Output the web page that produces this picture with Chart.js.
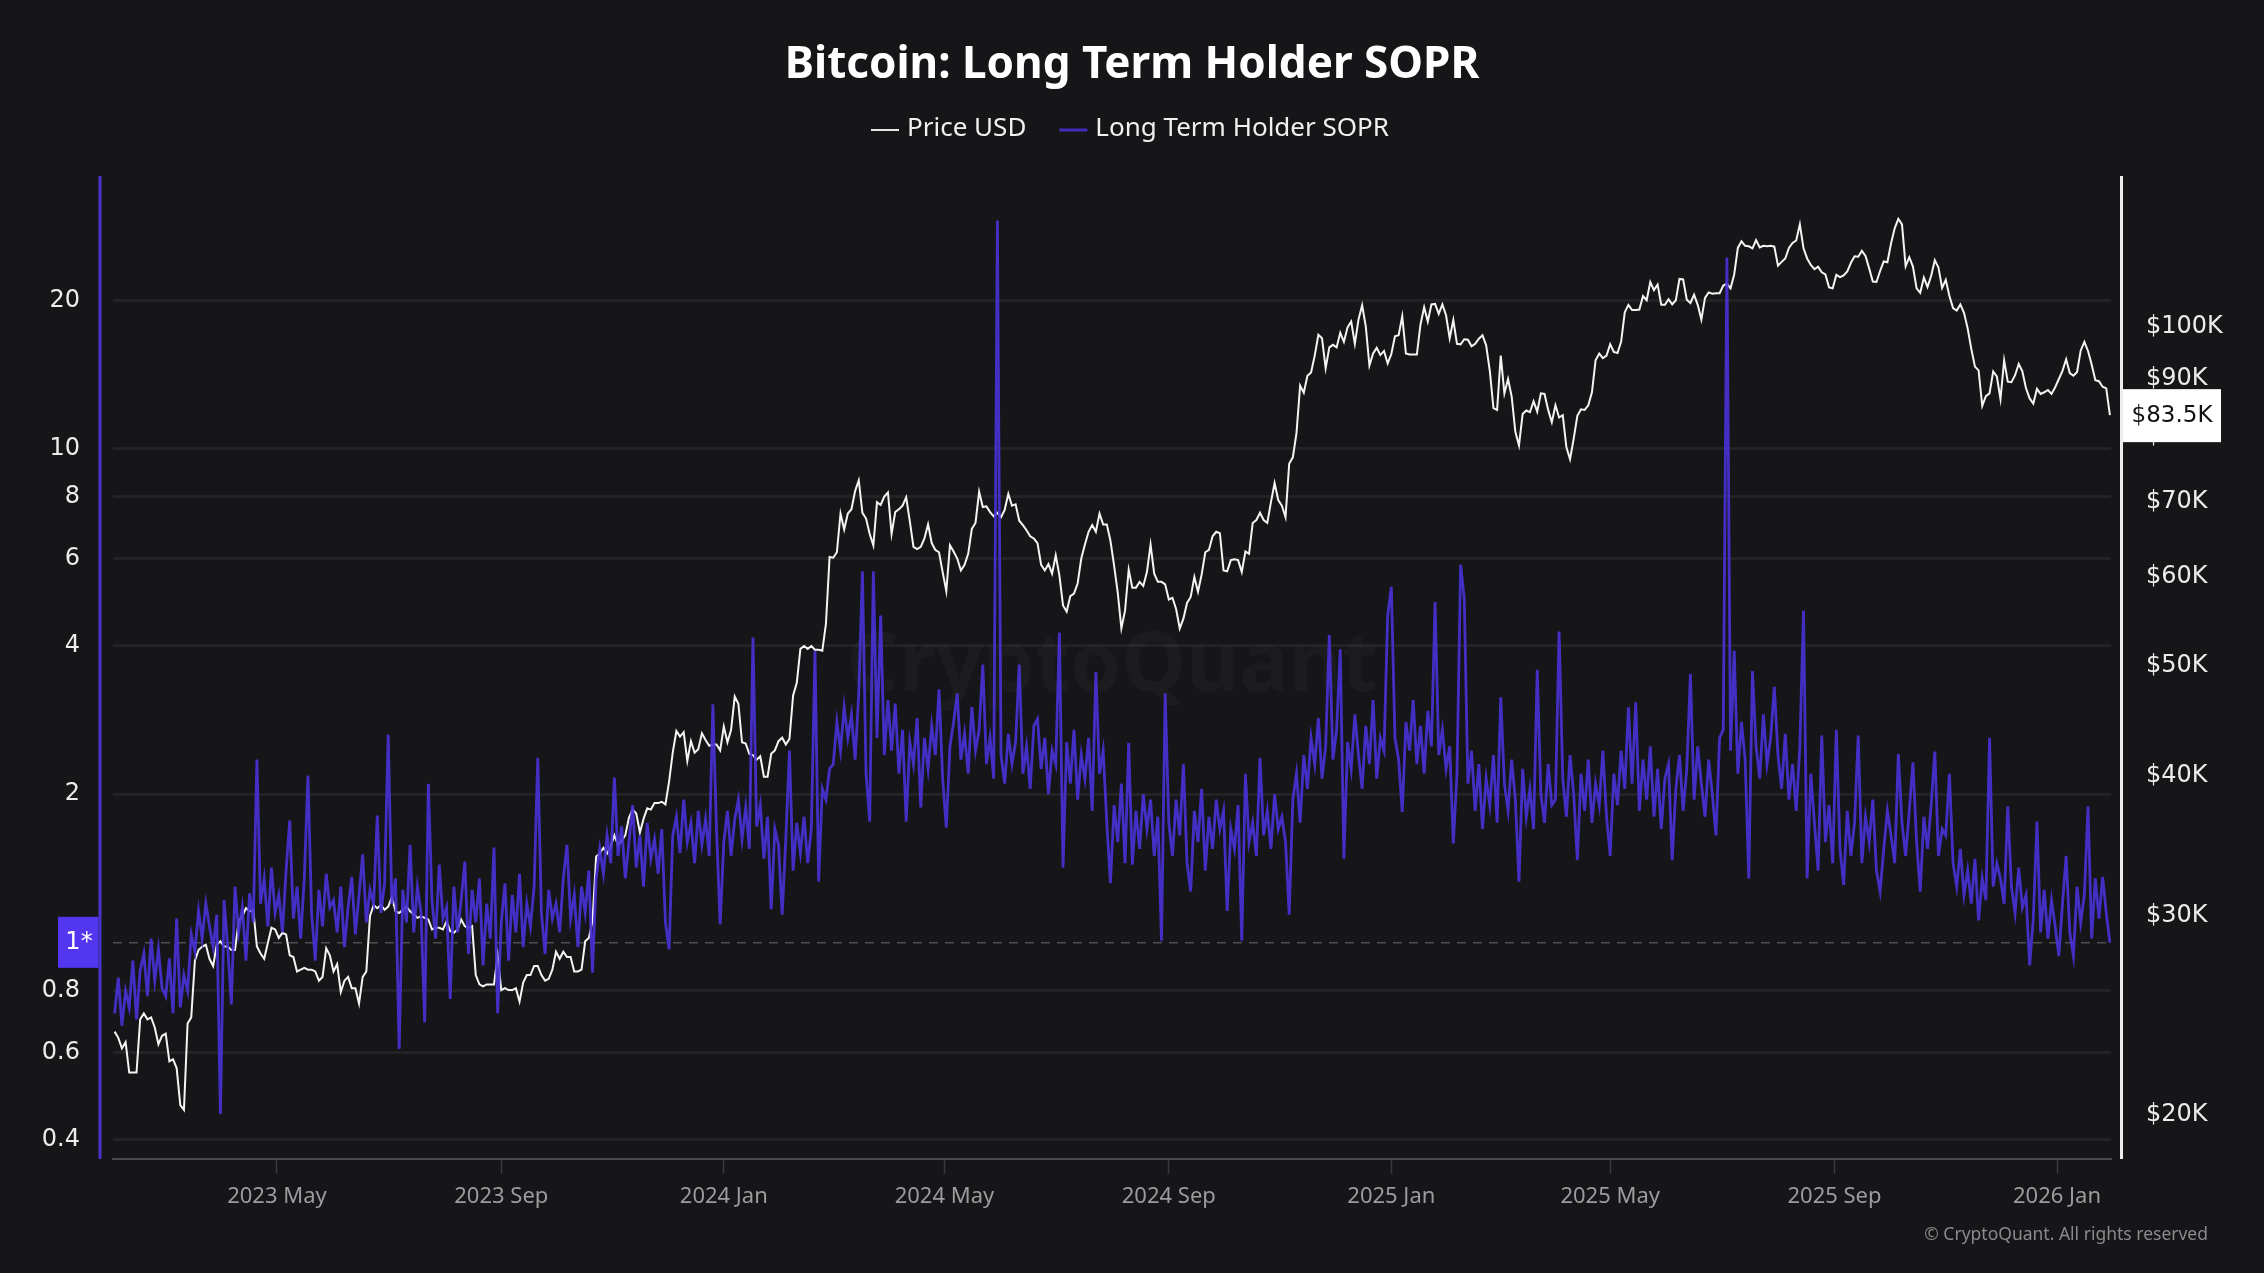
<!DOCTYPE html>
<html><head><meta charset="utf-8">
<script src="https://cdn.jsdelivr.net/npm/chart.js@4.4.1/dist/chart.umd.min.js"></script>
<style>html,body{margin:0;padding:0;background:#161618;overflow:hidden}</style>
</head><body>
<canvas id="c" width="2264" height="1273" style="width:2264px;height:1273px;display:block"></canvas>
<script>
// ---- data (one value every 2 days, starting 2023-02-01) ----
const startDate = '2023-02-01';
const stepDays = 2;

// BTC price, thousands of USD
const priceK = [
 23.7,23.4,22.9,23.2,21.8,21.8,21.8,24.3,24.6,24.3,24.4,23.9,23.1,23.5,
 23.6,22.3,22.4,22.0,20.4,20.2,24.1,24.4,27.4,28.0,28.2,28.3,27.5,27.1,28.3,28.5,
 28.2,28.2,28.0,28.0,29.7,30.0,30.5,30.3,30.4,28.2,27.8,27.5,28.4,29.3,29.2,
 28.7,29.0,28.9,27.7,27.6,26.8,26.9,27.0,26.9,26.9,26.8,26.3,26.5,28.1,27.7,
 26.8,27.2,25.7,26.3,26.5,25.9,25.9,25.1,26.5,26.8,30.0,30.7,30.5,30.7,30.4,
 30.6,31.2,30.3,30.2,30.4,30.6,30.3,30.1,29.9,30.0,29.9,29.8,29.2,29.3,29.3,29.2,
 29.7,29.1,29.0,29.2,29.8,29.4,29.3,29.4,26.6,26.1,26.0,26.1,26.1,26.1,27.7,
 25.8,25.9,25.8,25.8,25.9,25.2,26.2,26.6,26.6,27.1,27.1,26.6,26.3,26.4,26.9,
 27.9,27.5,27.9,27.6,27.6,26.8,26.8,26.9,28.5,28.7,29.7,33.9,34.1,34.5,34.1,34.6,
 35.4,34.7,35.0,35.4,36.7,37.3,37.0,35.6,36.6,37.4,37.3,37.8,37.8,37.9,37.7,
 39.5,41.9,43.8,43.3,43.7,41.2,42.9,41.9,42.2,43.6,43.0,42.5,42.6,42.6,42.1,
 44.2,42.8,43.9,47.0,46.3,42.8,42.7,41.8,41.7,41.3,41.6,39.9,39.9,41.8,42.1,42.9,
 43.2,42.6,43.1,47.1,48.3,51.8,52.1,51.8,52.1,51.7,51.7,51.6,54.5,62.5,
 62.4,63.1,68.3,66.1,68.3,68.9,71.5,73.1,68.4,67.6,65.5,64.0,69.9,69.5,70.7,71.3,
 65.5,68.5,68.9,69.4,70.6,67.2,63.8,63.5,63.8,64.9,66.8,64.3,63.4,63.1,60.6,
 58.3,64.0,63.2,62.3,60.8,61.5,62.9,66.2,67.0,71.4,69.2,69.3,68.5,67.9,68.4,
 67.8,68.8,71.1,69.4,69.6,67.3,66.7,66.0,65.2,64.9,64.3,61.5,60.8,61.6,60.4,
 62.7,60.2,56.6,55.9,57.7,58.0,59.2,62.3,64.1,65.8,66.7,65.8,68.3,66.8,66.8,64.6,
 61.4,58.1,54.0,56.0,60.9,58.7,58.7,59.4,58.9,60.6,64.1,60.4,59.4,59.4,59.1,
 57.3,57.5,56.2,54.0,55.1,56.9,57.6,60.0,58.2,60.3,63.1,63.4,65.2,65.8,65.6,
 60.8,60.7,62.1,62.2,62.1,60.6,63.2,62.9,67.0,67.4,68.4,67.4,67.0,69.9,72.7,70.2,
 69.4,67.8,75.6,76.6,80.5,88.7,87.4,90.5,91.1,94.3,98.4,97.7,91.9,95.9,96.4,
 95.9,98.8,97.0,99.9,101.1,96.6,101.5,104.5,100.1,92.4,94.7,95.8,94.4,95.2,92.8,
 94.6,98.1,98.3,102.2,94.7,94.5,94.5,94.5,100.5,104.1,101.1,104.7,104.8,102.7,104.7,102.4,
 97.7,101.4,96.6,96.5,97.5,97.4,96.1,96.6,97.6,98.3,96.3,91.4,84.7,84.4,
 94.3,87.3,89.9,86.7,80.7,78.5,83.7,84.3,84.0,85.9,84.1,87.3,87.2,84.4,82.3,
 85.2,83.1,83.5,78.2,76.3,79.6,83.4,84.5,84.4,85.2,87.5,93.4,94.7,93.8,94.3,
 96.5,95.0,94.8,97.0,103.0,104.6,103.5,103.5,103.6,106.5,105.6,109.6,107.8,109.0,104.6,104.6,
 105.8,104.7,105.6,110.3,110.2,105.7,105.0,106.8,104.6,101.5,106.1,107.3,107.0,107.1,107.1,
 108.8,109.2,108.2,111.3,117.5,119.1,118.0,117.9,117.4,119.4,117.6,118.0,117.9,118.0,117.8,
 113.3,114.2,115.0,117.5,118.7,119.3,123.3,117.4,115.0,113.5,112.5,113.1,111.8,111.3,108.4,108.2,
 111.2,110.7,111.1,112.0,114.0,115.5,115.4,116.8,115.6,112.7,109.7,109.6,112.1,114.3,114.1,
 118.6,122.3,124.7,123.3,113.2,115.3,113.1,108.2,107.2,110.6,108.5,111.0,114.6,112.9,108.3,
 110.1,106.5,103.9,103.4,104.7,102.9,99.7,95.6,92.2,91.5,85.1,86.8,87.3,91.3,90.4,
 86.3,93.4,89.4,89.3,90.6,92.7,91.3,88.2,86.4,85.5,88.1,87.2,87.5,87.9,87.2,88.4,
 89.9,91.4,93.6,91.0,90.5,91.2,95.3,97.0,95.2,92.6,89.7,89.5,88.5,88.2,83.5
];

// Long Term Holder SOPR
const ltSopr = [
 0.72,0.85,0.68,0.80,0.74,0.92,0.70,0.88,0.95,0.78,1.02,0.84,0.97,0.81,
 0.78,0.93,0.72,1.12,0.74,0.86,0.80,1.04,0.96,1.16,1.02,1.20,1.08,0.98,1.14,0.45,
 1.22,0.98,0.75,1.30,1.05,1.18,0.92,1.26,1.10,2.35,1.20,1.35,1.08,1.42,1.15,
 1.25,1.05,1.40,1.77,1.12,1.30,1.02,1.35,2.18,1.15,0.92,1.28,1.08,1.38,1.18,
 1.22,1.05,1.30,0.98,1.18,1.36,1.04,1.25,1.51,1.10,1.28,1.20,1.81,1.15,1.32,
 2.64,1.20,1.35,0.61,1.28,1.10,1.58,1.05,1.30,1.15,0.69,2.10,1.22,1.02,1.44,1.12,
 1.18,0.77,1.30,1.05,1.22,1.46,0.95,1.28,1.10,1.35,0.90,1.20,1.02,1.56,0.72,
 1.10,1.32,0.92,1.25,1.05,1.38,0.98,1.20,1.08,1.30,2.37,1.15,0.95,1.28,1.12,
 1.20,1.05,1.35,1.58,1.12,1.25,0.98,1.30,1.15,1.40,0.87,1.35,1.55,1.38,1.65,1.45,
 2.16,1.50,1.72,1.35,1.60,1.90,1.42,1.65,1.30,1.75,1.48,1.62,1.38,1.70,1.10,
 0.97,1.65,1.80,1.52,1.95,1.60,1.75,1.45,1.85,1.58,1.78,1.50,3.04,1.70,1.09,
 1.60,1.85,1.50,1.78,1.95,1.62,1.88,1.55,4.15,1.72,1.90,1.48,1.80,1.17,1.70,1.58,
 1.14,1.62,2.45,1.40,1.75,1.52,1.80,1.45,1.70,3.90,1.33,2.05,1.95,2.25,
 2.30,2.80,2.45,3.00,2.60,2.90,2.35,3.20,5.65,2.20,1.76,5.65,2.60,4.60,2.40,3.10,
 2.45,3.05,2.20,2.70,1.76,2.55,2.30,2.85,1.88,2.60,2.25,2.75,2.40,3.26,2.15,
 1.71,2.50,2.80,3.20,2.35,2.65,2.20,3.00,2.45,2.70,3.66,2.30,2.60,2.15,29.0,
 2.40,2.10,2.65,2.30,2.55,3.66,2.20,2.50,2.05,2.75,2.84,2.25,2.60,2.00,2.45,
 2.30,4.25,1.42,2.55,2.10,2.70,1.95,2.40,2.15,2.60,1.85,3.54,2.20,2.45,1.75,1.32,
 1.90,1.60,2.10,1.45,2.54,1.44,1.85,1.55,2.00,1.70,1.95,1.50,1.80,1.01,3.20,
 1.75,1.50,1.95,1.65,2.30,1.45,1.27,1.85,1.60,2.05,1.40,1.80,1.55,1.95,1.70,
 1.85,1.16,1.70,1.55,1.90,1.01,2.20,1.60,1.75,1.50,2.37,1.65,1.85,1.55,2.00,1.70,
 1.80,1.60,1.14,1.95,2.20,1.75,2.40,2.05,2.60,2.30,2.85,2.15,2.50,4.20,2.35,
 2.70,3.93,1.48,2.55,2.25,2.90,2.40,2.05,2.75,2.30,3.10,2.15,2.60,2.45,4.60,
 5.26,2.60,2.35,1.84,2.80,2.45,3.10,2.30,2.75,2.20,2.95,2.50,4.90,2.40,2.70,2.25,
 2.50,1.59,2.20,5.83,4.97,2.10,2.45,1.85,2.30,1.70,2.15,1.90,2.40,1.75,
 3.14,2.10,1.85,2.35,1.95,1.33,2.25,1.80,2.05,1.70,3.57,2.00,1.75,2.30,1.90,
 1.95,4.27,2.15,1.80,2.40,2.00,1.47,2.20,1.85,2.35,1.75,2.10,1.90,2.45,1.80,
 1.50,2.20,1.90,2.45,2.05,3.00,2.10,3.07,1.85,2.35,1.95,2.50,1.80,2.25,1.70,2.15,
 2.30,1.47,2.05,2.40,1.85,2.25,3.50,1.95,2.50,2.10,1.80,2.35,2.00,1.65,2.60,
 2.70,24.4,2.45,3.90,2.20,2.80,2.35,1.35,3.55,2.50,2.15,2.90,2.30,2.60,3.30,
 2.40,2.05,2.65,1.95,2.30,1.85,2.50,4.70,1.35,2.20,1.75,1.40,2.63,1.60,1.90,1.45,
 2.70,1.55,1.31,1.85,1.50,1.75,2.63,1.45,1.80,1.60,1.95,1.40,1.27,1.55,1.85,
 1.65,1.45,2.41,1.75,1.50,1.85,2.32,1.60,1.27,1.80,1.55,1.90,2.44,1.50,1.70,
 1.65,2.20,1.45,1.30,1.55,1.25,1.40,1.20,1.48,1.11,1.35,1.22,2.60,1.30,1.45,
 1.35,1.20,1.89,1.30,1.15,1.42,1.18,1.25,0.90,1.12,1.76,1.05,1.28,1.02,1.22,1.08,
 0.94,1.20,1.50,1.05,0.94,1.30,1.10,1.25,1.89,1.02,1.35,1.12,1.36,1.15,1.00
];

// axis ticks (x in days since startDate)
const xTickDays   = [89, 212, 334, 455, 578, 700, 820, 943, 1065];
const xTickLabels = ['2023 May','2023 Sep','2024 Jan','2024 May','2024 Sep','2025 Jan','2025 May','2025 Sep','2026 Jan'];
const soprTicks   = [0.4, 0.6, 0.8, 1, 2, 4, 6, 8, 10, 20];
const priceTicks  = [20, 30, 40, 50, 60, 70, 80, 90, 100];

// ---- styling ----
const BG = '#161618';
const PURPLE = 'rgba(72,50,212,0.92)';
const TICK_FONT = 'DejaVu Sans';
const UI_FONT = 'Noto Sans';

const bgPlugin = {
  id: 'bg',
  beforeDraw(chart) {
    const c = chart.ctx; c.save(); c.fillStyle = BG; c.fillRect(0, 0, chart.width, chart.height); c.restore();
  },
  beforeDatasetsDraw(chart) {
    const a = chart.chartArea, c = chart.ctx;
    c.save();
    c.font = `bold 82px "${UI_FONT}"`;
    c.fillStyle = 'rgba(255,255,255,0.028)';
    c.textAlign = 'center'; c.textBaseline = 'middle';
    c.fillText('CryptoQuant', (a.left + a.right) / 2, (a.top + a.bottom) / 2);
    c.restore();
  }
};

const decoPlugin = {
  id: 'deco',
  afterDraw(chart) {
    const c = chart.ctx, a = chart.chartArea;
    c.save();
    // axis lines
    c.fillStyle = 'rgb(72,52,205)';
    c.fillRect(a.left - 14.5, a.top, 3, a.bottom - a.top);
    c.fillStyle = '#eeeeee';
    c.fillRect(a.right + 9, a.top, 3, a.bottom - a.top);

    // legend
    const ds = chart.data.datasets;
    c.font = `26px "${UI_FONT}"`;
    c.textBaseline = 'middle';
    const mk = 28, g1 = 8, g2 = 33;
    const w0 = c.measureText(ds[0].label).width, w1 = c.measureText(ds[1].label).width;
    const total = mk + g1 + w0 + g2 + mk + g1 + w1;
    let x = 1130 - total / 2; const ly = 129;
    const items = [[ds[0].label, '#e8e8e8', w0], [ds[1].label, 'rgb(64,44,190)', w1]];
    items.forEach(([t, col, w], i) => {
      c.strokeStyle = col; c.lineWidth = i === 0 ? 2 : 3;
      c.beginPath(); c.moveTo(x, ly + 1); c.lineTo(x + mk, ly + 1); c.stroke();
      x += mk + g1;
      c.fillStyle = '#f0f0f0'; c.textAlign = 'left';
      c.fillText(t, x, ly);
      x += w + g2;
    });

    // current value boxes
    const yS = chart.scales.ySopr, yP = chart.scales.yPrice;
    const lastS = ltSopr[ltSopr.length - 1], lastP = priceK[priceK.length - 1];
    const sy = yS.getPixelForValue(lastS);
    c.fillStyle = '#5236f0';
    c.fillRect(58, sy - 26, a.left - 14.5 - 58, 51);
    c.fillStyle = '#ffffff'; c.textAlign = 'center';
    c.font = `24px "${TICK_FONT}"`;
    c.fillText(Math.round(lastS) + '*', 79, sy);

    const py = yP.getPixelForValue(lastP);
    c.fillStyle = '#ffffff';
    c.fillRect(a.right + 12, py - 26, 98, 53);
    c.fillStyle = '#111111';
    c.font = `23px "${TICK_FONT}"`;
    c.fillText('$' + lastP.toFixed(1) + 'K', a.right + 61, py + 1);

    // copyright
    c.font = `17.5px "${UI_FONT}"`;
    c.fillStyle = '#8a8a8c'; c.textAlign = 'right';
    c.fillText('\u00A9 CryptoQuant. All rights reserved', 2208, 1235);
    c.restore();
  }
};

const toPoints = arr => arr.map((v, i) => ({ x: i * stepDays, y: v }));

new Chart(document.getElementById('c'), {
  type: 'line',
  data: {
    datasets: [
      { label: 'Price USD', data: toPoints(priceK), yAxisID: 'yPrice', borderColor: '#f4f4f4',
        borderWidth: 2, pointRadius: 0, tension: 0, order: 1 },
      { label: 'Long Term Holder SOPR', data: toPoints(ltSopr), yAxisID: 'ySopr', borderColor: PURPLE,
        borderWidth: 2.8, pointRadius: 0, tension: 0, order: 0 }
    ]
  },
  options: {
    responsive: false, animation: false, devicePixelRatio: 1,
    layout: { padding: 0 },
    plugins: {
      legend: { display: false },
      tooltip: { enabled: false },
      title: { display: true, text: 'Bitcoin: Long Term Holder SOPR', color: '#ffffff',
        font: { family: UI_FONT, size: 44, weight: 'bold' }, padding: { top: 39, bottom: 84.2 } }
    },
    scales: {
      x: {
        type: 'linear', min: -0.9, max: 1094.6,
        afterBuildTicks: s => { s.ticks = xTickDays.map(v => ({ value: v })); },
        afterFit: s => { s.height = 114; },
        ticks: { autoSkip: false, maxRotation: 0, color: '#9c9c9e', padding: 10,
          font: { family: UI_FONT, size: 22 }, callback: (v, i) => xTickLabels[i] },
        grid: { drawOnChartArea: false, drawTicks: true, tickLength: 15, tickColor: '#3a3a3c', tickWidth: 1.5 },
        border: { display: true, color: '#4a4a4c', width: 2 }
      },
      ySopr: {
        type: 'logarithmic', position: 'left', min: 0.365, max: 35.7,
        afterBuildTicks: s => { s.ticks = soprTicks.map(v => ({ value: v })); },
        afterFit: s => { s.width = 113; },
        ticks: { color: '#ececec', padding: 33, autoSkip: false,
          font: { family: TICK_FONT, size: 24 }, callback: v => (v === 1 ? '' : String(v)) },
        grid: { drawTicks: false,
          color: c => (c.tick && c.tick.value === 1) ? '#4e4e52' : '#232326',
          lineWidth: c => (c.tick && c.tick.value === 1) ? 1.5 : 3 },
        border: { display: false, dash: c => (c.tick && c.tick.value === 1) ? [9, 7] : [] }
      },
      yPrice: {
        type: 'logarithmic', position: 'right', min: 18.27, max: 136.1,
        afterBuildTicks: s => { s.ticks = priceTicks.map(v => ({ value: v })); },
        afterFit: s => { s.width = 153; },
        ticks: { color: '#ececec', padding: 35, autoSkip: false,
          font: { family: TICK_FONT, size: 24 }, callback: v => '$' + v + 'K' },
        grid: { display: false, drawTicks: false },
        border: { display: false }
      }
    }
  },
  plugins: [bgPlugin, decoPlugin]
});
</script>
</body></html>
